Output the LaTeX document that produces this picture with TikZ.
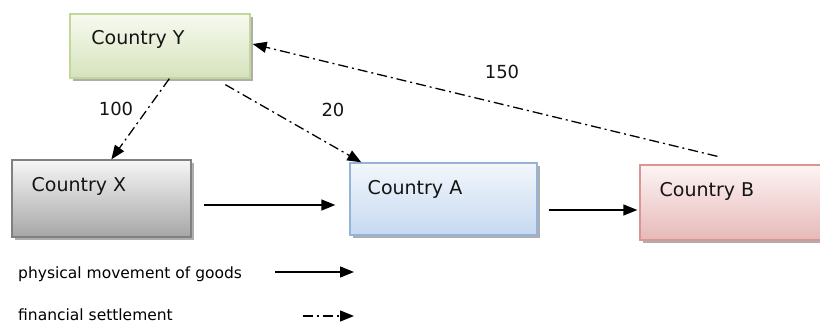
\documentclass[tikz,border=0pt]{standalone}
\usepackage{fontspec}
\setmainfont{DejaVu Sans}
\usetikzlibrary{arrows.meta,shadows,calc}
\definecolor{txt}{HTML}{141414}
\tikzset{
  box/.style={draw, line width=1.3pt, rectangle, inner sep=0pt,
    drop shadow={shadow xshift=2.5pt, shadow yshift=-3pt, fill=black!45, opacity=0.7}},
  ybox/.style={box, draw={rgb,255:red,195;green,214;blue,155}, top color={rgb,255:red,247;green,250;blue,240}, bottom color={rgb,255:red,214;green,227;blue,188}},
  xbox/.style={box, draw={rgb,255:red,128;green,128;blue,128}, top color={rgb,255:red,246;green,246;blue,246}, bottom color={rgb,255:red,166;green,166;blue,166}},
  abox/.style={box, draw={rgb,255:red,149;green,179;blue,215}, top color={rgb,255:red,243;green,247;blue,252}, bottom color={rgb,255:red,198;green,217;blue,241}},
  bbox/.style={box, draw={rgb,255:red,217;green,150;blue,148}, top color={rgb,255:red,253;green,244;blue,244}, bottom color={rgb,255:red,230;green,185;blue,184}},
  ctext/.style={font=\fontsize{19}{22}\selectfont, text=txt, inner sep=0pt},
  num/.style={font=\fontsize{18}{21}\selectfont, text=txt, inner sep=0pt},
  legtext/.style={font=\fontsize{15.5}{18}\selectfont, text=black, inner sep=0pt, anchor=west},
  tip/.style={-{Triangle[length=14pt,width=11pt]}},
  fin/.style={tip, line width=1.3pt, dash pattern=on 10pt off 4pt on 2pt off 4pt},
  phys/.style={tip, line width=1.3pt},
}
\begin{document}
\begin{tikzpicture}[x=1pt,y=-1pt]
\useasboundingbox (0,0) rectangle (820,323);
\clip (0,0) rectangle (820,323);
% boxes
\node[ybox, minimum width=180pt, minimum height=64pt] (yb) at (160,46) {};
\node[xbox, minimum width=179pt, minimum height=77pt] (xb) at (101.5,198.5) {};
\node[abox, minimum width=187pt, minimum height=72pt] (ab) at (443.5,199) {};
\node[bbox, minimum width=200pt, minimum height=75pt] (bb) at (740,202.5) {};
% labels
\node[ctext] (yt) at (138,39) {Country Y};
\node[ctext] (xt) at (79,186) {Country X};
\node[ctext] (at) at (415,189) {Country A};
\node[ctext] (bt) at (707,191) {Country B};
% financial arrows
\draw[fin] ([xshift=100pt]yb.south west) -- ([xshift=100pt]xb.north west);
\draw[fin] ([xshift=156pt,yshift=-6pt]yb.south west) -- ([xshift=12pt]ab.north west);
\draw[fin] ([xshift=78pt,yshift=8pt]bb.north west) -- ([xshift=2pt,yshift=2pt]yb.east);
% physical arrows
\draw[phys] ([xshift=12pt,yshift=-6.5pt]xb.east) -- ([xshift=-14pt,yshift=-6pt]ab.west);
\draw[phys] ([xshift=11pt,yshift=-11pt]ab.east) -- ([xshift=-2pt,yshift=-7.5pt]bb.west);
% numbers
\node[num] (n100) at (116,109) {100};
\node[num] (n20) at (333,110) {20};
\node[num] (n150) at (502,72) {150};
% legend
\node[legtext] (l1) at (18,274) {physical movement of goods};
\node[legtext] (l2) at (18,315) {financial settlement};
\coordinate (l1s) at (275,272);
\coordinate (l1e) at (354,272);
\coordinate (l2s) at (303,316);
\coordinate (l2e) at (354,316);
\draw[phys] (l1s) -- (l1e);
\draw[fin] (l2s) -- (l2e);
\end{tikzpicture}
\end{document}
